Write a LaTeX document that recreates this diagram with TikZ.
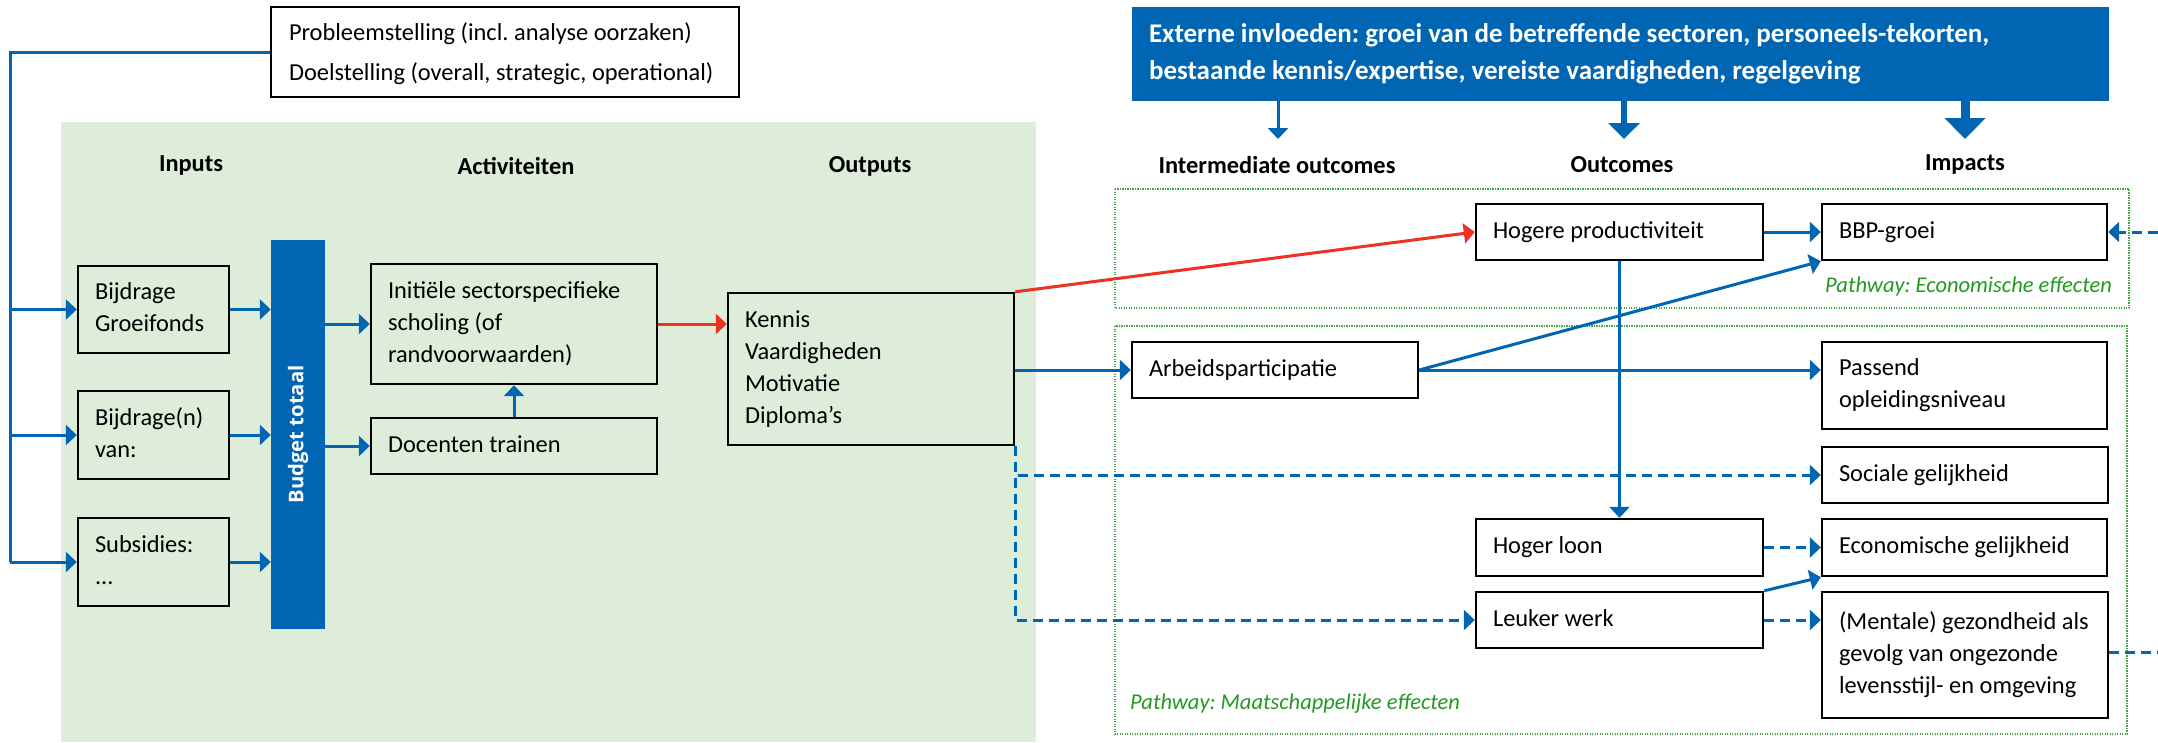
\documentclass[tikz,border=0pt]{standalone}
\usepackage{fontspec}
\setmainfont{Carlito}
\newfontfamily\barfont{Open Sans}
\usetikzlibrary{arrows.meta}
\frenchspacing

\definecolor{rblue}{HTML}{0066B3}
\definecolor{bggreen}{HTML}{DDEDDA}
\definecolor{rred}{HTML}{EE3124}
\definecolor{pgreen}{HTML}{229922}

\newcommand\dfont{\fontsize{24.4pt}{32pt}\selectfont}
% left-aligned lines in a box of fixed width, never wrapped
\newcommand\boxtext[2]{\makebox[#1][l]{\begin{tabular}{@{}l@{}}#2\end{tabular}}}

\begin{document}
\begin{tikzpicture}[x=1pt,y=-1pt,
  box/.style={draw=black, line width=2.4pt, inner xsep=17pt, inner ysep=0pt,
              font=\dfont, anchor=center},
  heading/.style={font=\dfont\bfseries, inner sep=0pt},
  pathlabel/.style={font=\fontsize{22.5pt}{28pt}\selectfont\itshape, text=pgreen, inner sep=0pt, anchor=west},
  link/.style={draw=rblue, line width=3pt},
  arr/.style={link, -{Triangle[length=11pt,width=20pt]}},
  dasharr/.style={arr, dash pattern=on 10pt off 6pt},
  redarr/.style={draw=rred, line width=3pt, -{Triangle[length=11pt,width=20pt]}},
  pathway/.style={draw=pgreen!85, line width=1.2pt, dash pattern=on 1.2pt off 1.3pt},
]
\useasboundingbox (0,0) rectangle (2158,742);

% shaded area of inputs, activities and outputs
\fill[bggreen] (61,122) rectangle (1036,742);

% pathway frames
\draw[pathway] (1115,189) rectangle (2129,308);
\draw[pathway] (1115,326) rectangle (2127,734);

% problem statement
\node[box, font=\fontsize{24.4pt}{40pt}\selectfont, inner xsep=18pt,
      minimum height=90pt] (prob) at (505,52)
  {\boxtext{432pt}{Probleemstelling (incl. analyse oorzaken)\\Doelstelling (overall, strategic, operational)}};

% external influences
\node[fill=rblue, text=white, font=\fontsize{27pt}{37pt}\selectfont\bfseries,
      inner xsep=17pt, inner ysep=0pt, minimum height=94pt] (ext) at (1620.5,54)
  {\boxtext{943pt}{Externe invloeden: groei van de betreffende sectoren, personeels-tekorten,\\
   bestaande kennis/expertise, vereiste vaardigheden, regelgeving}};

% column headings
\node[heading] (hin) at (191,166) {Inputs};
\node[heading] (hact) at (516,166) {Activiteiten};
\node[heading] (hout) at (870,166) {Outputs};
\node[heading] (hint) at (1277,165) {Intermediate outcomes};
\node[heading] (hoc) at (1622,165) {Outcomes};
\node[heading] (himp) at (1965,165) {Impacts};

% inputs
\node[box, minimum height=87pt] (b1) at (153.5,309.5) {\boxtext{117pt}{Bijdrage\\Groeifonds}};
\node[box, minimum height=88pt] (b2) at (153.5,435) {\boxtext{117pt}{Bijdrage(n)\\van:}};
\node[box, minimum height=88pt] (b3) at (153.5,562) {\boxtext{117pt}{Subsidies:\\...}};

% total budget bar
\node[fill=rblue, minimum width=54pt, minimum height=389pt, inner sep=0pt] (bar) at (298,434.5) {};
\node[rotate=90, text=white, inner sep=0pt] (barlabel) at (bar.center)
  {\resizebox{138pt}{!}{\barfont\bfseries\fontsize{21pt}{21pt}\selectfont Budget totaal}};

% activities
\node[box, minimum height=120pt] (init) at (514,324)
  {\boxtext{252pt}{Initiële sectorspecifieke\\scholing (of\\randvoorwaarden)}};
\node[box, minimum height=56pt] (doc) at (514,446) {\boxtext{252pt}{Docenten trainen}};

% outputs
\node[box, minimum height=152pt] (outp) at (871,369)
  {\boxtext{252pt}{Kennis\\Vaardigheden\\Motivatie\\Diploma’s}};

% intermediate outcomes, outcomes, impacts
\node[box, minimum height=56pt] (arb) at (1275,370) {\boxtext{252pt}{Arbeidsparticipatie}};
\node[box, minimum height=56pt] (prod) at (1619.5,232) {\boxtext{253pt}{Hogere productiviteit}};
\node[box, minimum height=57pt] (loon) at (1619.5,547.5) {\boxtext{253pt}{Hoger loon}};
\node[box, minimum height=56pt] (leuk) at (1619.5,620) {\boxtext{253pt}{Leuker werk}};
\node[box, minimum height=56pt] (bbp) at (1964.5,232) {\boxtext{251pt}{BBP-groei}};
\node[box, minimum height=87pt] (pas) at (1964.5,385.5) {\boxtext{251pt}{Passend\\opleidingsniveau}};
\node[box, minimum height=56pt] (soc) at (1965,475) {\boxtext{252pt}{Sociale gelijkheid}};
\node[box, minimum height=57pt] (eco) at (1964.5,547.5) {\boxtext{251pt}{Economische gelijkheid}};
\node[box, minimum height=126pt] (ment) at (1965,655)
  {\boxtext{252pt}{(Mentale) gezondheid als\\gevolg van ongezonde\\levensstijl- en omgeving}};

% pathway labels
\node[pathlabel] (pecon) at (1825,286) {Pathway: Economische effecten};
\node[pathlabel] (pmaat) at (1130,704) {Pathway: Maatschappelijke effecten};

% problem statement feeding the inputs
\coordinate (spine) at (10,562);
\draw[link] (prob.west) -| (spine);
\draw[arr] (spine |- b1.west) -- (b1.west);
\draw[arr] (spine |- b2.west) -- (b2.west);
\draw[arr] (spine) -- (spine -| b3.west);

% inputs into the budget
\draw[arr] (b1.east) -- (b1.east -| bar.west);
\draw[arr] (b2.east) -- (b2.east -| bar.west);
\draw[arr] (b3.east) -- (b3.east -| bar.west);

% budget into activities
\draw[arr] (bar.east |- init.west) -- (init.west);
\draw[arr] (bar.east |- doc.west) -- (doc.west);
\draw[arr] (doc.north) -- (init.south);

% activities to outputs and onward
\draw[redarr] (init.east) -- (init.east -| outp.west);
\draw[redarr] (outp.north east) -- (prod.west);
\draw[arr] (outp.east |- arb.west) -- (arb.west);
\draw[dasharr] (outp.south east) |- (soc.west);
\draw[dasharr] (outp.south east) |- (leuk.west);

% outcome links
\draw[arr] (prod.east) -- (bbp.west);
\draw[arr] (arb.east) -- (bbp.south west);
\draw[arr] (arb.east) -- (arb.east -| pas.west);
\draw[arr, line width=2.4pt] (prod.south) -- (loon.north);
\draw[dasharr] (loon.east) -- (eco.west);
\draw[arr] (leuk.north east) -- (eco.south west);
\draw[dasharr] (leuk.east) -- (leuk.east -| ment.west);

% feedback running off the right edge
\coordinate (edgeA) at (2158,232);
\coordinate (edgeB) at (2158,652);
\draw[dasharr] (edgeA) -- (bbp.east);
\draw[link, dash pattern=on 10pt off 6pt] (ment.east |- edgeB) -- (edgeB);

% external influences acting on each stage
\coordinate (exA) at (1278,139);
\coordinate (exB) at (1624,139);
\coordinate (exC) at (1965,139);
\draw[draw=rblue, line width=3pt, -{Triangle[length=11pt,width=20pt]}] (ext.south -| exA) -- (exA);
\draw[draw=rblue, line width=6pt, -{Triangle[length=16pt,width=31pt]}] (ext.south -| exB) -- (exB);
\draw[draw=rblue, line width=9pt, -{Triangle[length=21pt,width=40pt]}] (ext.south -| exC) -- (exC);
\end{tikzpicture}
\end{document}
